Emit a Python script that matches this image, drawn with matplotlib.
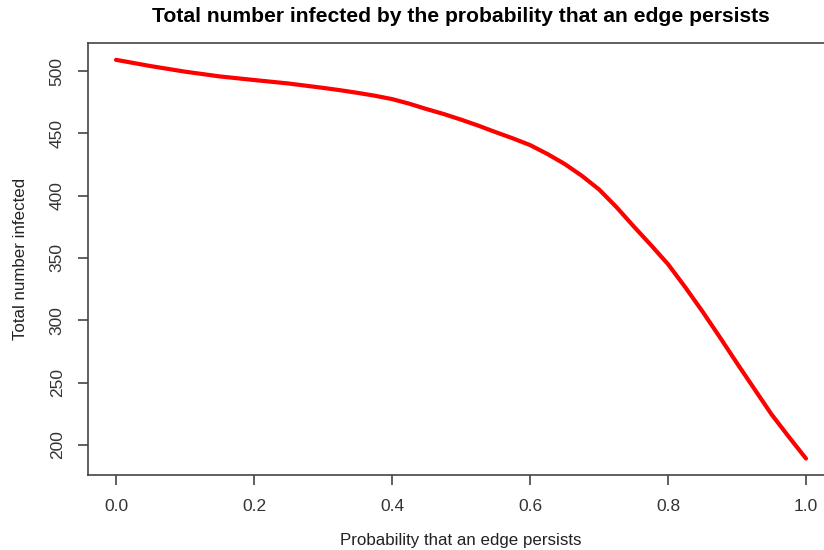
import matplotlib
matplotlib.use("Agg")
import matplotlib.pyplot as plt

plt.rcParams["font.family"] = ["Liberation Sans", "DejaVu Sans"]

# Probability that an edge persists vs. total number infected
prob_persist = [0.000, 0.050, 0.100, 0.150, 0.200, 0.250, 0.300, 0.325, 0.350,
                0.375, 0.400, 0.425, 0.450, 0.475, 0.500, 0.525, 0.550, 0.575,
                0.600, 0.625, 0.650, 0.675, 0.700, 0.725, 0.750, 0.775, 0.800,
                0.825, 0.850, 0.875, 0.900, 0.925, 0.950, 0.975, 1.000]
total_infected = [509.0, 504.0, 499.5, 495.7, 492.8, 490.0, 486.5, 484.6, 482.5,
                  480.2, 477.5, 473.8, 469.5, 465.5, 461.0, 456.2, 451.0, 446.0,
                  440.6, 433.5, 425.5, 416.0, 405.0, 391.0, 375.5, 360.5, 345.0,
                  326.5, 307.0, 286.5, 265.5, 245.0, 224.5, 206.5, 189.0]

x_ticks = [0.0, 0.2, 0.4, 0.6, 0.8, 1.0]
x_tick_labels = ["0.0", "0.2", "0.4", "0.6", "0.8", "1.0"]
y_ticks = [200, 250, 300, 350, 400, 450, 500]

W, H = 824, 550
fig = plt.figure(figsize=(W / 100, H / 100), dpi=100)
fig.patch.set_facecolor("white")

left, right, top, bottom = 88.4, 833.6, 43, 475
ax = fig.add_axes([left / W, 1 - bottom / H, (right - left) / W, (bottom - top) / H])

ax.plot(prob_persist, total_infected, color="#ff0000", lw=3.0,
        solid_capstyle="round", solid_joinstyle="round")

ax.set_xlim(-0.04, 1.04)
ax.set_ylim(175.8, 522.5)

ax.set_xticks(x_ticks)
ax.set_xticklabels(x_tick_labels)
ax.set_yticks(y_ticks)
ax.set_yticklabels([str(v) for v in y_ticks], rotation=90, va="center")

axis_col = "#444444"
for sp in ax.spines.values():
    sp.set_color(axis_col)
    sp.set_linewidth(1.2)
ax.tick_params(axis="both", direction="out", length=7, width=1.2,
               color=axis_col, labelcolor="#333333", labelsize=12.5, pad=10)

ax.set_xlabel("Probability that an edge persists", fontsize=12.2,
              color="#222222", labelpad=14)
ax.set_ylabel("Total number infected", fontsize=12.2, color="#222222",
              labelpad=16)

fig.text((left + right) / 2 / W, 1 - 17 / H,
         "Total number infected by the probability that an edge persists",
         ha="center", va="center", fontsize=15.2, fontweight="bold", color="black")

fig.savefig("out.png", dpi=100, facecolor="white")
